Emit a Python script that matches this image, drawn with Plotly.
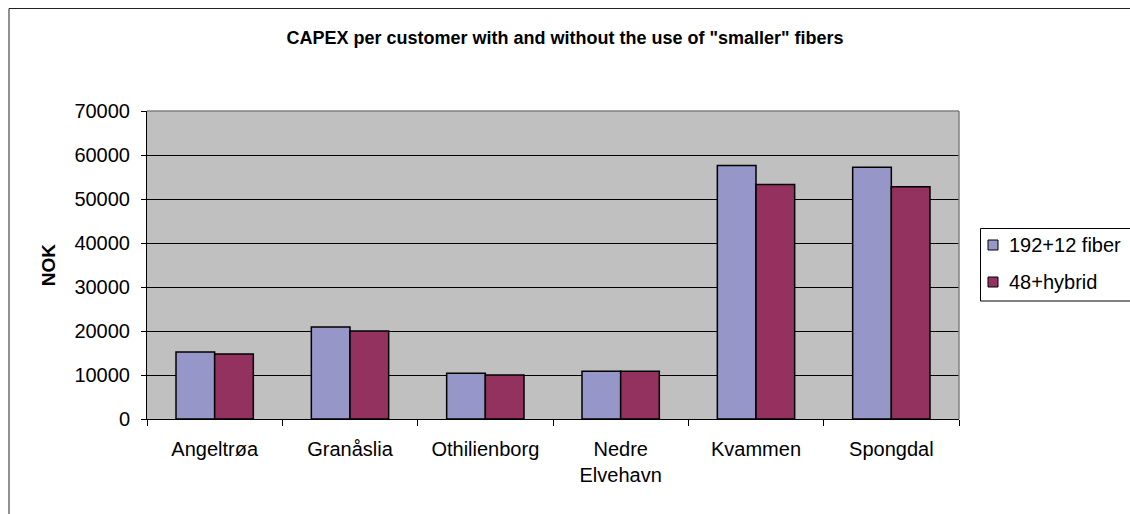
import plotly.graph_objects as go

areas = ["Angeltrøa", "Granåslia", "Othilienborg", "Nedre<br>Elvehavn", "Kvammen", "Spongdal"]
series_names = ["192+12 fiber", "48+hybrid"]
fiber_192 = [15200, 20900, 10400, 10850, 57600, 57200]
hybrid_48 = [14800, 20000, 10000, 10850, 53300, 52800]

colors = ["#9696C8", "#93325E"]

W, H = 1130, 514
L, R, T, B = 147, 959, 111, 419
pw, ph = R - L, B - T


def px_x(x):
    return (x - L) / pw


def px_y(y):
    return (B - y) / ph


font = "Liberation Sans, Arial, sans-serif"

fig = go.Figure()
for name, vals, col in zip(series_names, [fiber_192, hybrid_48], colors):
    fig.add_trace(go.Bar(
        x=areas, y=vals, name=name,
        marker=dict(color=col, line=dict(color="black", width=1.5)),
    ))

shapes = [
    # outer chart frame (only left/top visible in the picture)
    dict(type="rect", xref="paper", yref="paper",
         x0=px_x(9), x1=px_x(1140), y0=px_y(530), y1=px_y(8.5),
         line=dict(color="#222", width=1), layer="below"),
    # plot area border, top and right
    dict(type="line", xref="paper", yref="paper", x0=0, x1=1, y0=1, y1=1,
         line=dict(color="#808080", width=1.5)),
    dict(type="line", xref="paper", yref="paper", x0=1, x1=1, y0=0, y1=1,
         line=dict(color="#808080", width=1.5)),
    # legend box (runs off the right edge like the original)
    dict(type="rect", xref="paper", yref="paper",
         x0=px_x(980.5), x1=px_x(1145), y0=px_y(301), y1=px_y(228.5),
         line=dict(color="black", width=1), fillcolor="white"),
]

annotations = []
for i, (name, col) in enumerate(zip(series_names, colors)):
    yc = 245 + 37 * i
    shapes.append(dict(
        type="rect", xref="paper", yref="paper",
        x0=px_x(988), x1=px_x(998), y0=px_y(yc + 5), y1=px_y(yc - 5),
        line=dict(color="black", width=1), fillcolor=col,
    ))
    annotations.append(dict(
        x=px_x(1007), y=px_y(yc), xref="paper", yref="paper",
        text=name, showarrow=False, xanchor="left", yanchor="middle",
        font=dict(size=20, color="black"),
    ))

fig.update_layout(
    width=W, height=H,
    margin=dict(l=L, r=W - R, t=T, b=H - B),
    paper_bgcolor="white",
    plot_bgcolor="#C0C0C0",
    font=dict(family=font, size=20, color="black"),
    title=dict(
        text="<b>CAPEX per customer with and without the use of \"smaller\" fibers</b>",
        x=0.5, xref="container", xanchor="center",
        y=1 - 38 / H, yref="container", yanchor="middle",
        font=dict(family=font, size=18, color="black"),
    ),
    barmode="group",
    bargap=0.4286,
    bargroupgap=0,
    showlegend=False,
    xaxis=dict(
        showline=True, linecolor="black", linewidth=1,
        ticks="outside", tickson="boundaries", ticklen=6, tickcolor="black",
        showgrid=False, tickfont=dict(size=20), ticklabelstandoff=12,
    ),
    yaxis=dict(
        range=[0, 70000], dtick=10000, tickformat="d",
        showline=True, linecolor="black", linewidth=1,
        ticks="outside", ticklen=5, tickcolor="black",
        showgrid=True, gridcolor="black", gridwidth=1,
        zeroline=False, tickfont=dict(size=20), ticklabelstandoff=7,
        title=dict(text="<b>NOK</b>", font=dict(size=19), standoff=13),
    ),
    shapes=shapes,
    annotations=annotations,
)

fig.write_html("out.html", config={"displayModeBar": False},
               post_script="document.body.style.margin='0';")
